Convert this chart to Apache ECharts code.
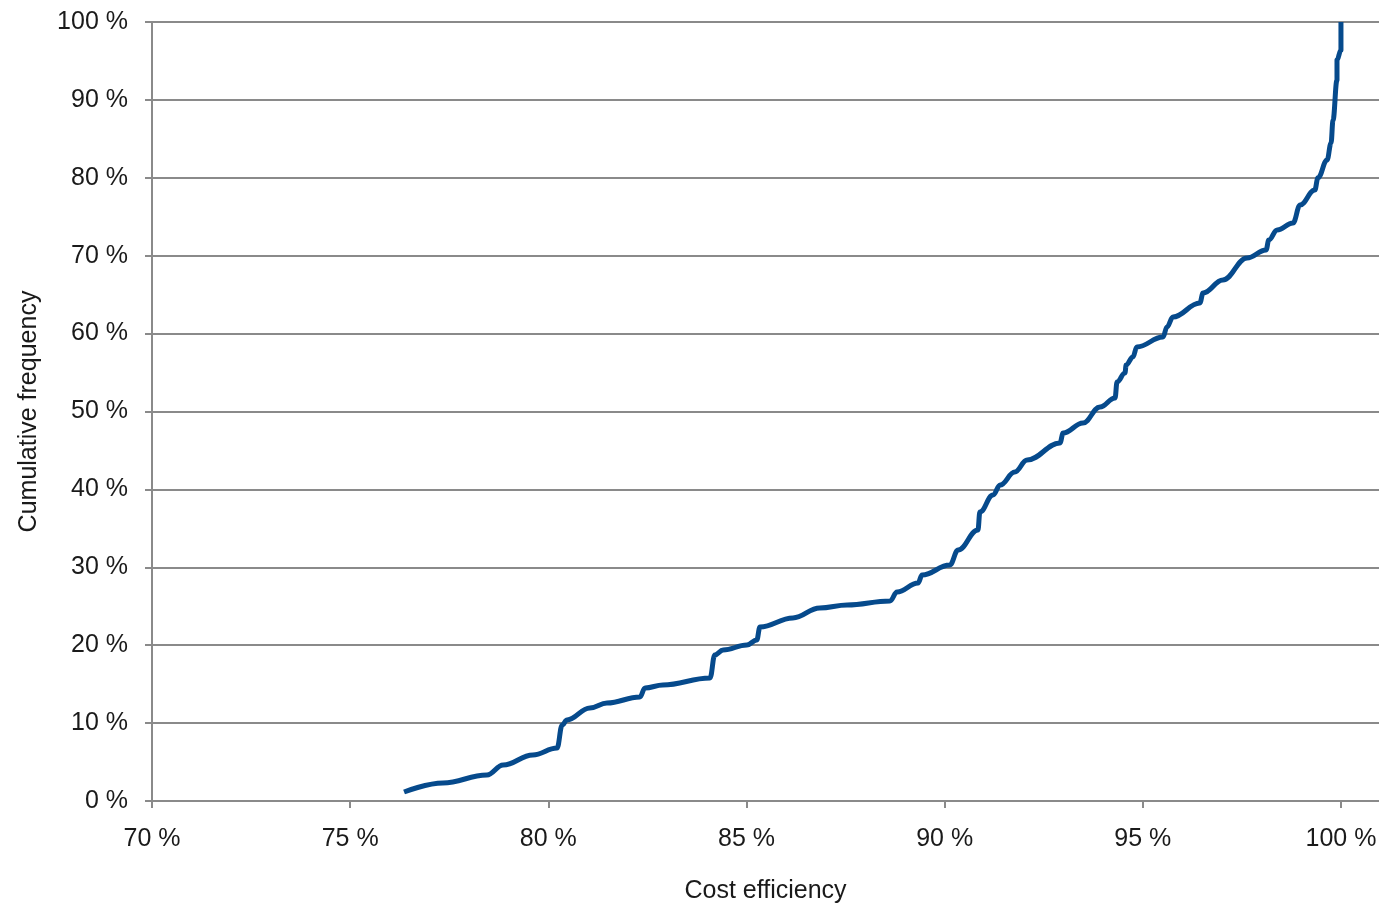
<!DOCTYPE html>
<html>
<head>
<meta charset="utf-8">
<script src="https://cdn.jsdelivr.net/npm/echarts@6/dist/echarts.min.js"></script>
<style>
html,body{margin:0;padding:0;background:#fff;}
#chart{width:1379px;height:906px;}
</style>
</head>
<body>
<div id="chart"></div>
<script>
// Cost efficiency (%) and cumulative frequency (%)
const costEfficiency = [76.36, 77.34, 78.45, 78.86, 79.61, 80.22, 80.35, 80.47, 81.05, 81.48, 82.31, 82.44, 82.89, 84.08, 84.20, 84.41, 85.01, 85.26, 85.34, 86.17, 86.85, 87.54, 88.62, 88.80, 89.33, 89.43, 90.13, 90.34, 90.84, 90.89, 91.22, 91.40, 91.77, 92.08, 92.91, 92.99, 93.49, 93.92, 94.30, 94.35, 94.55, 94.58, 94.75, 94.85, 95.51, 95.61, 95.76, 96.44, 96.52, 97.02, 97.63, 98.11, 98.18, 98.39, 98.79, 98.97, 99.34, 99.42, 99.65, 99.75, 99.80, 99.90, 99.90, 100.00, 100.00];
const cumulativeFrequency = [1.16, 2.31, 3.34, 4.62, 5.91, 6.80, 9.76, 10.40, 11.94, 12.58, 13.35, 14.51, 14.89, 15.79, 18.74, 19.38, 20.03, 20.67, 22.34, 23.49, 24.78, 25.16, 25.67, 26.83, 27.98, 29.01, 30.30, 32.22, 34.79, 37.10, 39.28, 40.56, 42.23, 43.77, 45.96, 47.24, 48.52, 50.58, 51.73, 53.79, 54.94, 55.97, 57.00, 58.28, 59.56, 60.85, 62.13, 63.93, 65.21, 66.88, 69.71, 70.73, 72.02, 73.30, 74.20, 76.51, 78.43, 80.00, 82.28, 84.47, 87.42, 92.55, 95.12, 96.41, 100.0];
const xTicks = [70, 75, 80, 85, 90, 95, 100];
const yTicks = [0, 10, 20, 30, 40, 50, 60, 70, 80, 90, 100];
const xTitle = 'Cost efficiency';
const yTitle = 'Cumulative frequency';

const data = costEfficiency.map((x, i) => [x, cumulativeFrequency[i]]);
const gray = '#8a8a8a';
const labelFont = {fontFamily: '"Liberation Sans Narrow", "Liberation Sans", Arial, sans-serif', fontSize: 25, color: '#1a1a1a'};

const chart = echarts.init(document.getElementById('chart'), null, {renderer: 'canvas'});
chart.setOption({
  animation: false,
  grid: {left: 152, top: 22, right: 0, bottom: 105, containLabel: false, outerBoundsMode: 'none'},
  xAxis: {
    type: 'value', min: 70, max: 100.96,
    name: xTitle, nameLocation: 'middle', nameGap: 78,
    nameTextStyle: {fontFamily: '"Liberation Sans", Arial, sans-serif', fontSize: 25, color: '#1a1a1a'},
    axisLine: {show: true, lineStyle: {color: gray, width: 2}},
    axisTick: {show: true, length: 7, inside: false, customValues: xTicks, lineStyle: {color: gray, width: 2}},
    axisLabel: Object.assign({margin: 26, customValues: xTicks, formatter: v => v + ' %'}, labelFont),
    splitLine: {show: false}
  },
  yAxis: {
    type: 'value', min: 0, max: 100, interval: 10,
    name: yTitle, nameLocation: 'middle', nameGap: 110, nameRotate: 90,
    nameTextStyle: {fontFamily: '"Liberation Sans", Arial, sans-serif', fontSize: 25, color: '#1a1a1a'},
    axisLine: {show: true, lineStyle: {color: gray, width: 2}},
    axisTick: {show: true, length: 7, inside: false, lineStyle: {color: gray, width: 2}},
    axisLabel: Object.assign({margin: 24, customValues: yTicks, formatter: v => v + ' %'}, labelFont),
    splitLine: {show: true, lineStyle: {color: gray, width: 2}}
  },
  series: [{
    type: 'line',
    data: data,
    showSymbol: false,
    smooth: 0.4,
    smoothMonotone: 'x',
    lineStyle: {color: '#064a8c', width: 5, cap: 'butt', join: 'round'},
    clip: false
  }]
});
</script>
</body>
</html>
